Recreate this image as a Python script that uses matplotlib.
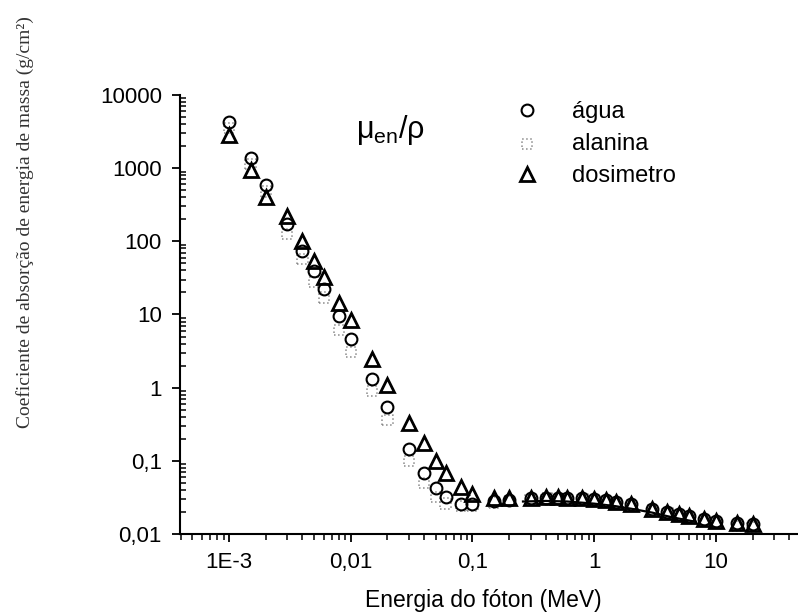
import numpy as np
import matplotlib

matplotlib.use("Agg")
import matplotlib.pyplot as plt
from matplotlib.ticker import FixedLocator, FixedFormatter, LogLocator, NullFormatter

plt.rcParams["font.family"] = ["Liberation Sans", "DejaVu Sans"]
plt.rcParams["mathtext.fontset"] = "custom"
plt.rcParams["mathtext.rm"] = "Liberation Sans"
plt.rcParams["mathtext.it"] = "Liberation Sans"

# photon energy (MeV)
energia = [0.001, 0.0015, 0.002, 0.003, 0.004, 0.005, 0.006, 0.008, 0.01,
           0.015, 0.02, 0.03, 0.04, 0.05, 0.06, 0.08, 0.1, 0.15, 0.2,
           0.3, 0.4, 0.5, 0.6, 0.8, 1.0, 1.25, 1.5, 2.0, 3.0, 4.0, 5.0,
           6.0, 8.0, 10.0, 15.0, 20.0]

# mu_en/rho (cm2/g)
agua = [4270, 1370, 585, 170, 73, 39, 22, 9.4, 4.6,
        1.32, 0.55, 0.145, 0.069, 0.042, 0.032, 0.026, 0.026, 0.028, 0.029,
        0.031, 0.0315, 0.0315, 0.0313, 0.0308, 0.0298, 0.029, 0.0273, 0.0255,
        0.0218, 0.0198, 0.0186, 0.0175, 0.016, 0.015, 0.014, 0.0136]
alanina = [3500, 1150, 480, 127, 57, 28, 17, 6.2, 3.1,
           0.9, 0.36, 0.10, 0.05, 0.032, 0.026, 0.024, 0.024, 0.027, 0.028,
           0.030, 0.0305, 0.0305, 0.0303, 0.0298, 0.0288, 0.028, 0.0265, 0.0247,
           0.0212, 0.0192, 0.018, 0.0169, 0.0155, 0.0145, 0.0128, 0.0125]
dosimetro = [2830, 940, 400, 220, 100, 53, 33, 14.5, 8.5,
             2.5, 1.1, 0.33, 0.177, 0.10, 0.069, 0.044, 0.0355, 0.031, 0.031,
             0.0312, 0.0317, 0.0317, 0.0315, 0.031, 0.030, 0.0292, 0.0275, 0.0257,
             0.022, 0.020, 0.0188, 0.0177, 0.0161, 0.0151, 0.0141, 0.0137]

# solid curve
curva_energia = [0.26, 0.4, 0.6, 1.0, 1.5, 2.0, 3.0, 4.0, 5.0, 6.5]
curva_valor = [0.0278, 0.0283, 0.0278, 0.0260, 0.0240, 0.0222, 0.0196, 0.0175, 0.0162, 0.0149]

xticks = [1e-3, 1e-2, 1e-1, 1, 10]
xtick_labels = ["1E-3", "0,01", "0,1", "1", "10"]
yticks = [0.01, 0.1, 1, 10, 100, 1000, 10000]
ytick_labels = ["0,01", "0,1", "1", "10", "100", "1000", "10000"]

fig = plt.figure(figsize=(7.98, 6.14), dpi=100)
fig.patch.set_facecolor("white")
ax = fig.add_axes([0.2256, 0.1303, 0.7744, 0.715])
ax.set_xscale("log")
ax.set_yscale("log")
ax.set_xlim(3.95e-4, 47.3)
ax.set_ylim(0.01, 10000)

ax.plot(curva_energia, curva_valor, color="black", lw=1.6, zorder=2)
h_ala = ax.scatter(energia, alanina, marker="s", s=55, facecolors="none",
                   edgecolors="#8a8a8a", linewidths=1.1, linestyles=":",
                   zorder=3, label="alanina")
h_agua, = ax.plot(energia, agua, "o", ms=8.5, mfc="none", mec="black", mew=1.5,
                  zorder=4, label="água")
h_dos, = ax.plot(energia, dosimetro, "^", ms=9.5, mfc="none", mec="black",
                 mew=2.0, zorder=5, label="dosimetro")

for side in ("top", "right"):
    ax.spines[side].set_visible(False)
ax.spines["left"].set_linewidth(1.5)
ax.spines["bottom"].set_linewidth(1.5)

ax.xaxis.set_major_locator(FixedLocator(xticks))
ax.xaxis.set_major_formatter(FixedFormatter(xtick_labels))
ax.xaxis.set_minor_locator(LogLocator(base=10, subs=np.arange(2, 10), numticks=100))
ax.xaxis.set_minor_formatter(NullFormatter())
ax.yaxis.set_major_locator(FixedLocator(yticks))
ax.yaxis.set_major_formatter(FixedFormatter(ytick_labels))
ax.yaxis.set_minor_locator(LogLocator(base=10, subs=np.arange(2, 10), numticks=100))
ax.yaxis.set_minor_formatter(NullFormatter())

ax.tick_params(axis="x", which="major", direction="out", length=6, width=1.3,
               labelsize=16, pad=7)
ax.tick_params(axis="x", which="minor", direction="out", length=4, width=1.1)
ax.tick_params(axis="y", which="major", direction="out", length=6, width=1.3,
               labelsize=16, pad=7)
ax.tick_params(axis="y", which="minor", direction="in", length=4, width=1.1)

fig.text(483 / 798, 1 - 600 / 614, "Energia do fóton (MeV)", ha="center",
         va="center", fontsize=16.5)
fig.text(25 / 798, 1 - 222 / 614,
         "Coeficiente de absorção de energia de massa (g/cm²)",
         rotation=90, ha="center", va="center", fontsize=14,
         family=["Liberation Serif", "DejaVu Serif"], color="#333333")
fig.text(390 / 798, 1 - 130 / 614, r"$\mu_{en}/\rho$", ha="center",
         va="center", fontsize=22)

ax.legend([h_agua, h_ala, h_dos], ["água", "alanina", "dosimetro"],
          loc="upper left", bbox_to_anchor=(515 / 798, 1 - 101 / 614),
          bbox_transform=fig.transFigure, frameon=False, fontsize=17,
          handlelength=1.0, handletextpad=1.4, labelspacing=0.42,
          borderpad=0, borderaxespad=0, numpoints=1, scatterpoints=1)

fig.savefig("out.png", dpi=100)
